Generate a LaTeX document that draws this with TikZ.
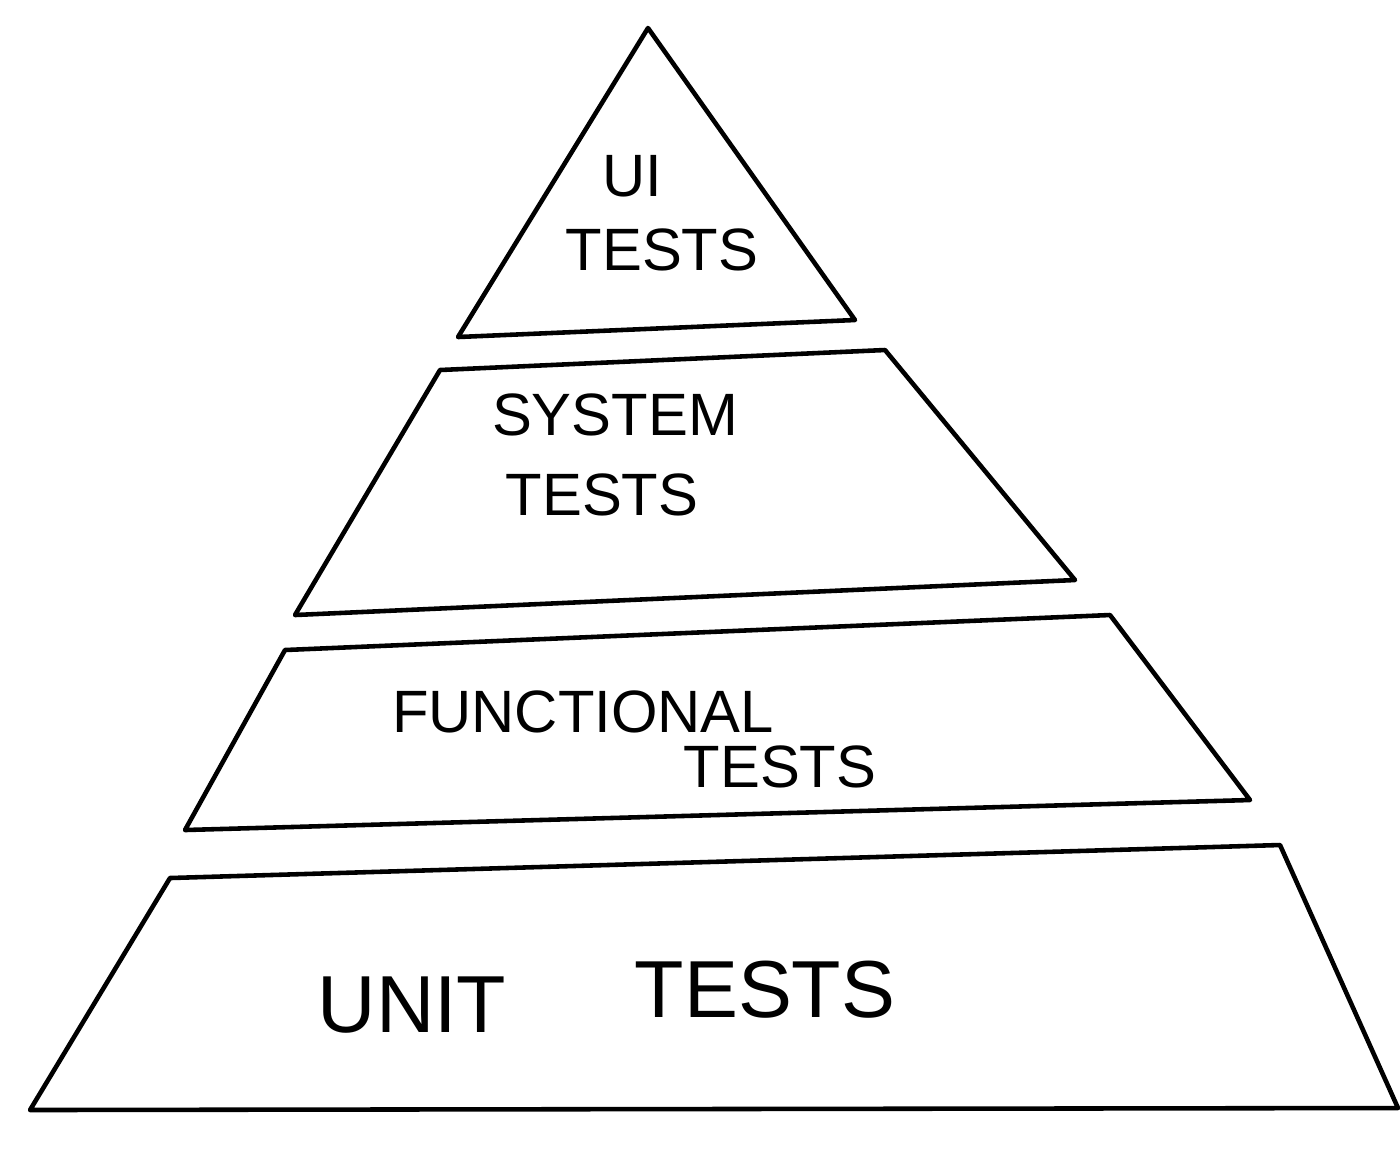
\documentclass[tikz,border=0pt]{standalone}
\usepackage{fontspec}
\setmainfont{Liberation Sans}
\begin{document}
\begin{tikzpicture}[x=0.01cm,y=-0.01cm,line width=1.3pt,line join=round,line cap=round,
	lbl/.style={font=\fontsize{17}{17}\selectfont, inner sep=0pt},
	biglbl/.style={font=\fontsize{23}{23}\selectfont, inner sep=0pt}]
	\useasboundingbox (0,0) rectangle (1400,1162);
	%-- layers
	\draw (648,28) -- (855,320) -- (458,337) -- cycle;
	\draw (440,370) -- (885,350) -- (1075,580) -- (295,615) -- cycle;
	\draw (285,650) -- (1110,615) -- (1250,800) -- (185,830) -- cycle;
	\draw (170,878) -- (1280,845) -- (1398,1108) -- (30,1110) -- cycle;
	%-- labels
	\node[lbl] (ui) at (632,176) {UI};
	\node[lbl] (uitests) at (662,250) {TESTS};
	\node[lbl] (system) at (615,415) {SYSTEM};
	\node[lbl] (systests) at (602,495) {TESTS};
	\node[lbl] (functional) at (583,712) {FUNCTIONAL};
	\node[lbl] (functests) at (780,767) {TESTS};
	\node[biglbl] (unit) at (412,1005) {UNIT};
	\node[biglbl] (unittests) at (765,990) {TESTS};
\end{tikzpicture}
\end{document}
